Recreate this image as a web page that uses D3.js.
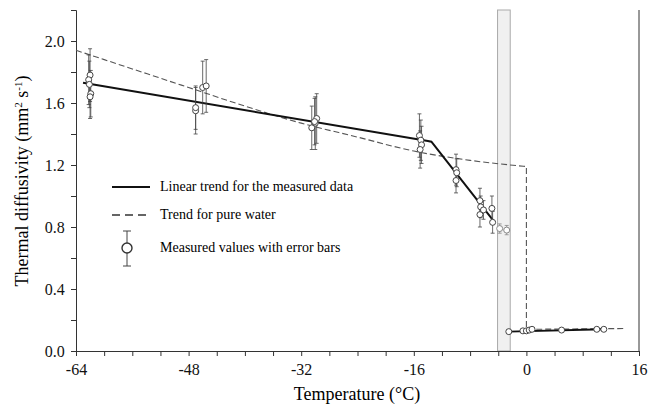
<!DOCTYPE html>
<html><head><meta charset="utf-8">
<script src="https://cdn.jsdelivr.net/npm/d3@7"></script>
<style>body{margin:0;background:#fff}svg,svg text{font-family:"Liberation Serif","Times New Roman",Times,serif !important}</style>
</head><body><svg id="c" width="663" height="404"></svg>
<script>
// measured values: [temp, diffusivity, error]
const measured = [
  [-62,1.78,0.17],[-62.2,1.75,0.16],[-62.1,1.72,0.15],[-61.9,1.66,0.15],[-62,1.64,0.14],
  [-47,1.55,0.15],[-47,1.57,0.14],[-46,1.70,0.17],[-45.5,1.71,0.17],
  [-30.5,1.44,0.14],[-30,1.47,0.17],[-29.8,1.50,0.16],[-30.1,1.48,0.15],
  [-15.2,1.39,0.14],[-15,1.36,0.13],[-14.9,1.33,0.12],[-15.1,1.30,0.12],
  [-10,1.17,0.1],[-9.9,1.15,0.09],[-10,1.10,0.08],
  [-6.6,0.97,0.08],[-6.5,0.93,0.07],[-6.6,0.88,0.08],[-6.1,0.91,0.06],
  [-4.9,0.92,0.08],[-4.8,0.83,0.07],
  [-2.5,0.125,0.01],[-0.5,0.13,0.01],[0,0.13,0.01],[0.4,0.135,0.01],[0.8,0.14,0.01],
  [5,0.135,0.01],[10,0.14,0.01],[11,0.14,0.01]
];
const grayPts = [[-3.8,0.79,0.03],[-2.8,0.78,0.03]];
const trendA = [[-63,1.73],[-14,1.355],[-13.5,1.35],[-4.5,0.83]];
const trendB = [[-2.5,0.125],[11,0.14]];
const water = [[-64,1.94],[-56,1.82],[-48,1.70],[-40,1.58],[-32,1.47],[-24,1.38],[-16,1.29],[-8,1.23],[0,1.19],[0,0.14],[14,0.145]];
const band = [-4.1,-2.3];
const xTicks = [-64,-48,-32,-16,0,16];
const yTicks = [0,0.4,0.8,1.2,1.6,2.0];

const svg = d3.select("#c");
const x = d3.scaleLinear().domain([-64,16]).range([76,639]);
const y = d3.scaleLinear().domain([0,2.2]).range([351,10]);

svg.append("rect").attr("x",x(band[0])).attr("width",x(band[1])-x(band[0]))
  .attr("y",y(2.2)).attr("height",y(0)-y(2.2)).attr("fill","#f0f0f0").attr("stroke","#aaa");

const xa = svg.append("g").attr("transform","translate(0,351)")
  .call(d3.axisBottom(x).tickValues(d3.range(-64,17,4)).tickSize(5).tickFormat(d=>xTicks.includes(d)?d:""));
const ya = svg.append("g").attr("transform","translate(76,0)")
  .call(d3.axisLeft(y).tickValues(d3.range(0,2.21,0.2)).tickSize(5)
  .tickFormat(d=>yTicks.some(t=>Math.abs(t-d)<1e-6)?d.toFixed(1):""));
svg.append("line").attr("x1",639).attr("x2",639).attr("y1",10).attr("y2",351).attr("stroke","#333");
[xa,ya].forEach(a=>{a.attr("font-family",null);a.selectAll("path,line").attr("stroke","#333");a.selectAll("text").attr("font-size",16).attr("fill","#111")});
xa.selectAll("text").attr("dy","1.0em");
ya.selectAll("text").attr("dx","-0.2em");

const line = d3.line().x(d=>x(d[0])).y(d=>y(d[1]));
const lineC = d3.line().x(d=>x(d[0])).y(d=>y(d[1])).curve(d3.curveMonotoneX);
svg.append("path").attr("d",lineC(water.slice(0,9))+"L"+x(0)+","+y(0.14)+"L"+x(14)+","+y(0.145))
  .attr("fill","none").attr("stroke","#555").attr("stroke-dasharray","6,3").attr("stroke-width",1.1);

function pts(data,col){
  const g = svg.append("g");
  data.forEach(d=>{
    g.append("line").attr("x1",x(d[0])).attr("x2",x(d[0])).attr("y1",y(d[1]-d[2])).attr("y2",y(d[1]+d[2])).attr("stroke",col).attr("stroke-width",0.8);
    [-1,1].forEach(s=>g.append("line").attr("x1",x(d[0])-2).attr("x2",x(d[0])+2).attr("y1",y(d[1]+s*d[2])).attr("y2",y(d[1]+s*d[2])).attr("stroke",col).attr("stroke-width",0.8));
  });
  data.forEach(d=>g.append("circle").attr("cx",x(d[0])).attr("cy",y(d[1])).attr("r",3).attr("fill","#fff").attr("stroke",col));
}
pts(grayPts,"#888");
[trendA,trendB].forEach(t=>svg.append("path").attr("d",line(t)).attr("fill","none").attr("stroke","#111").attr("stroke-width",2));
pts(measured,"#444");

// legend
const lg = svg.append("g").attr("font-size",14);
lg.append("line").attr("x1",112).attr("x2",150).attr("y1",187).attr("y2",187).attr("stroke","#111").attr("stroke-width",2.2);
lg.append("text").attr("x",160).attr("y",191).text("Linear trend for the measured data");
lg.append("line").attr("x1",112).attr("x2",150).attr("y1",215).attr("y2",215).attr("stroke","#333").attr("stroke-width",1.6).attr("stroke-dasharray","8,5");
lg.append("text").attr("x",160).attr("y",219).text("Trend for pure water");
lg.append("line").attr("x1",127).attr("x2",127).attr("y1",231).attr("y2",266).attr("stroke","#444");
[231,266].forEach(v=>lg.append("line").attr("x1",123).attr("x2",131).attr("y1",v).attr("y2",v).attr("stroke","#444"));
lg.append("circle").attr("cx",127).attr("cy",248).attr("r",5).attr("fill","#fff").attr("stroke","#333").attr("stroke-width",1.4);
lg.append("text").attr("x",160).attr("y",252).text("Measured values with error bars");

svg.append("text").attr("x",357).attr("y",400).attr("text-anchor","middle").attr("font-size",18).text("Temperature (°C)");
const yl = svg.append("text").attr("transform","translate(28,181) rotate(-90)").attr("text-anchor","middle").attr("font-size",18);
yl.append("tspan").text("Thermal diffusivity (mm");
yl.append("tspan").attr("baseline-shift","super").attr("font-size",11).text("2");
yl.append("tspan").text(" s");
yl.append("tspan").attr("baseline-shift","super").attr("font-size",11).text("-1");
yl.append("tspan").text(")");
</script></body></html>
